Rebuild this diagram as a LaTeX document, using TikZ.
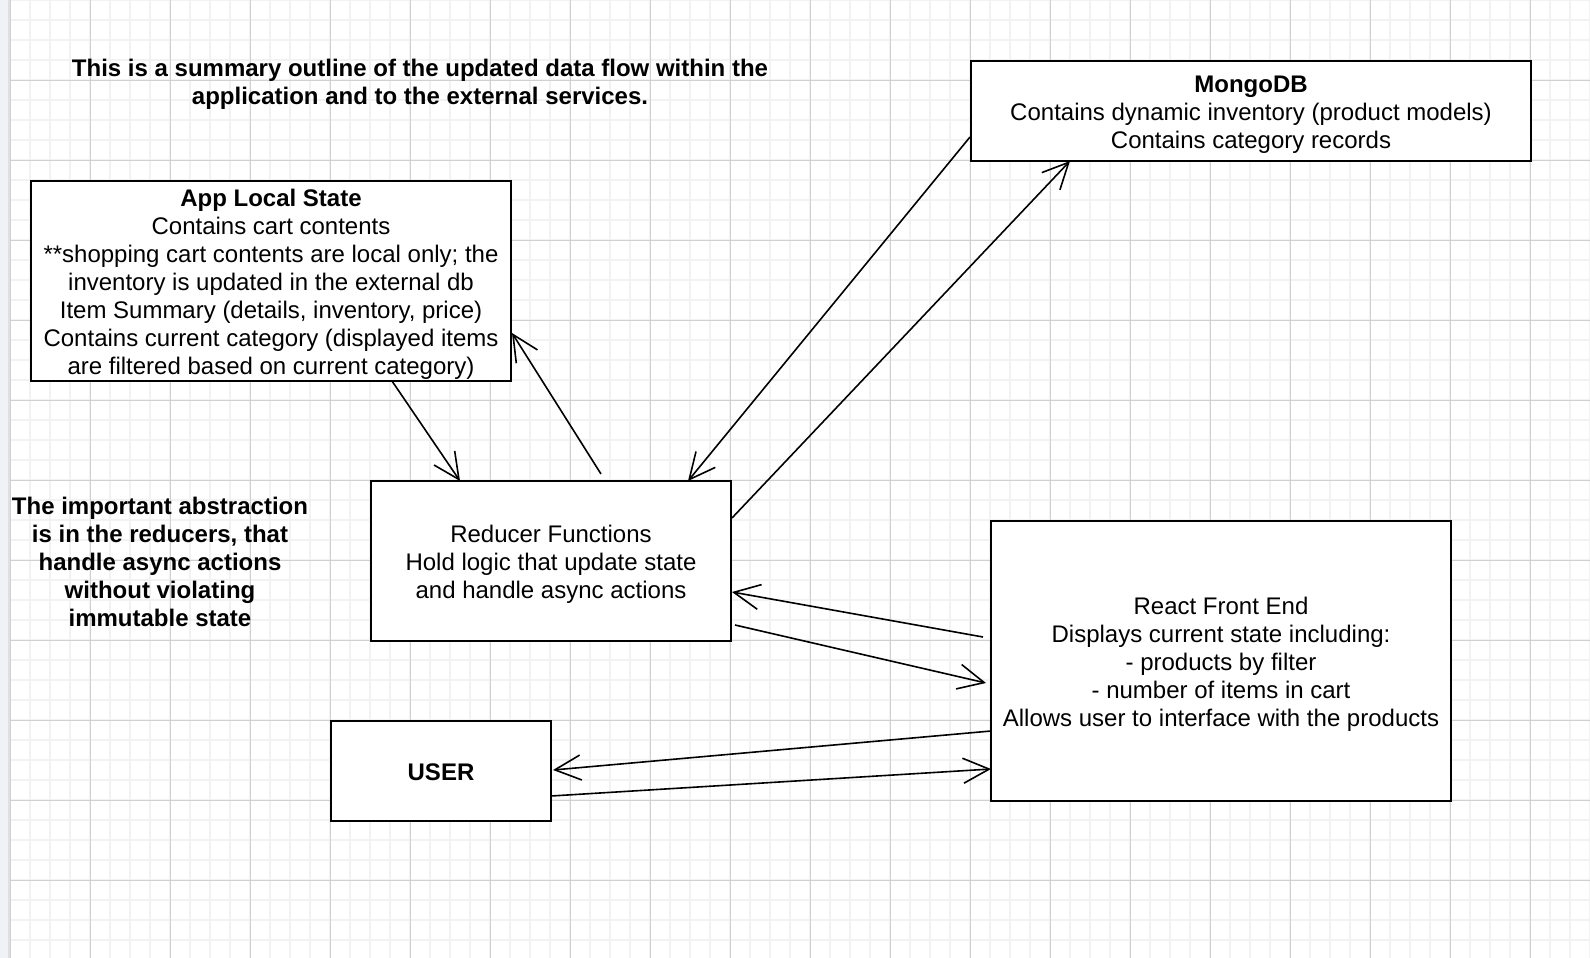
\documentclass[tikz,border=0pt]{standalone}
\usepackage{fontspec}
\setmainfont{Liberation Sans}
\usetikzlibrary{arrows.meta}

\definecolor{gridminor}{RGB}{242,242,242}
\definecolor{gridmajor}{RGB}{208,208,208}
\definecolor{sidebar}{RGB}{241,242,245}
\definecolor{sideedge}{RGB}{222,224,228}

\newcommand{\boxtext}[1]{\rule{0pt}{24.8pt}#1\rule[-5.1pt]{0pt}{5.1pt}}

\tikzset{
	block/.style = { draw, line width = 2pt, fill = white, align = center, inner sep = 0pt, outer sep = 0pt, font = \fontsize{24}{28}\selectfont },
	note/.style = { align = center, inner sep = 0pt, font = \fontsize{24}{28}\selectfont\bfseries },
	flow/.style = { line width = 1.6pt, -{Straight Barb[ length = 26pt, width = 25pt ]} },
}

\begin{document}
\begin{tikzpicture}[x = 1pt, y = -1pt]
		\useasboundingbox ( 0, 0 ) rectangle ( 1590, 958 );

		% фон и сетка
		\fill [ white ] ( 0, 0 ) rectangle ( 1590, 958 );
		\foreach \gx in { 10, 30, ..., 1590 } \draw [ gridminor, line width = 2pt ] ( \gx, 0 ) -- ( \gx, 958 );
		\foreach \gy in { 0, 20, ..., 940 } \draw [ gridminor, line width = 2pt ] ( 10, \gy ) -- ( 1590, \gy );
		\foreach \gx in { 10, 90, ..., 1530 } \draw [ gridmajor, line width = 1pt ] ( \gx, 0 ) -- ( \gx, 958 );
		\foreach \gy in { 0, 80, ..., 880 } \draw [ gridmajor, line width = 1pt ] ( 10, \gy ) -- ( 1590, \gy );
		\fill [ sidebar ] ( 0, 0 ) rectangle ( 9, 958 );
		\draw [ sideedge, line width = 1.5pt ] ( 9, 0 ) -- ( 9, 958 );

		% подписи
		\node [ note ] ( title ) at ( 420, 81 ) {\boxtext{This is a summary outline of the updated data flow within the\\ application and to the external services.}};
		\node [ note ] ( abstr ) at ( 160, 561 ) {\boxtext{The important abstraction\\ is in the reducers, that\\ handle async actions\\ without violating\\ immutable state}};

		% блоки
		\node [ block, minimum width = 480pt, minimum height = 200pt ] (app) at ( 271, 281 ) {\boxtext{\textbf{App Local State}\\ Contains cart contents\\ **shopping cart contents are local only; the\\ inventory is updated in the external db\\ Item Summary (details, inventory, price)\\ Contains current category (displayed items\\ are filtered based on current category)}};
		\node [ block, minimum width = 560pt, minimum height = 100pt ] (mongo) at ( 1251, 111 ) {\boxtext{\textbf{MongoDB}\\ Contains dynamic inventory (product models)\\ Contains category records}};
		\node [ block, minimum width = 360pt, minimum height = 160pt ] (red) at ( 551, 561 ) {\boxtext{Reducer Functions\\ Hold logic that update state\\ and handle async actions}};
		\node [ block, minimum width = 460pt, minimum height = 280pt ] (react) at ( 1221, 661 ) {\boxtext{React Front End\\ Displays current state including:\\ - products by filter\\ - number of items in cart\\ Allows user to interface with the products}};
		\node [ block, minimum width = 220pt, minimum height = 100pt ] (user) at ( 441, 771 ) {\boxtext{\textbf{USER}}};

		% связи
		\draw [ flow ] ([ xshift = 361pt ]app.south west) -- ([ xshift = 89pt ]red.north west);
		\draw [ flow ] ([ xshift = 230pt, yshift = 7pt ]red.north west) -- ([ xshift = 1pt, yshift = -152pt ]app.north east);
		\draw [ flow ] ([ xshift = -1pt, yshift = -76pt ]mongo.north west) -- ([ xshift = 317pt ]red.north west);
		\draw [ flow ] ([ xshift = 1pt, yshift = -37pt ]red.north east) -- ([ xshift = 99pt ]mongo.south west);
		\draw [ flow ] ([ xshift = -8pt, yshift = -116pt ]react.north west) -- ([ xshift = 1pt, yshift = -111pt ]red.north east);
		\draw [ flow ] ([ xshift = 4pt, yshift = -144pt ]red.north east) -- ([ xshift = -5pt, yshift = -162pt ]react.north west);
		\draw [ flow ] ([ yshift = -210pt ]react.north west) -- ([ xshift = 2pt, yshift = -49pt ]user.north east);
		\draw [ flow ] ([ yshift = -75pt ]user.north east) -- ([ yshift = -248pt ]react.north west);
	\end{tikzpicture}
\end{document}
